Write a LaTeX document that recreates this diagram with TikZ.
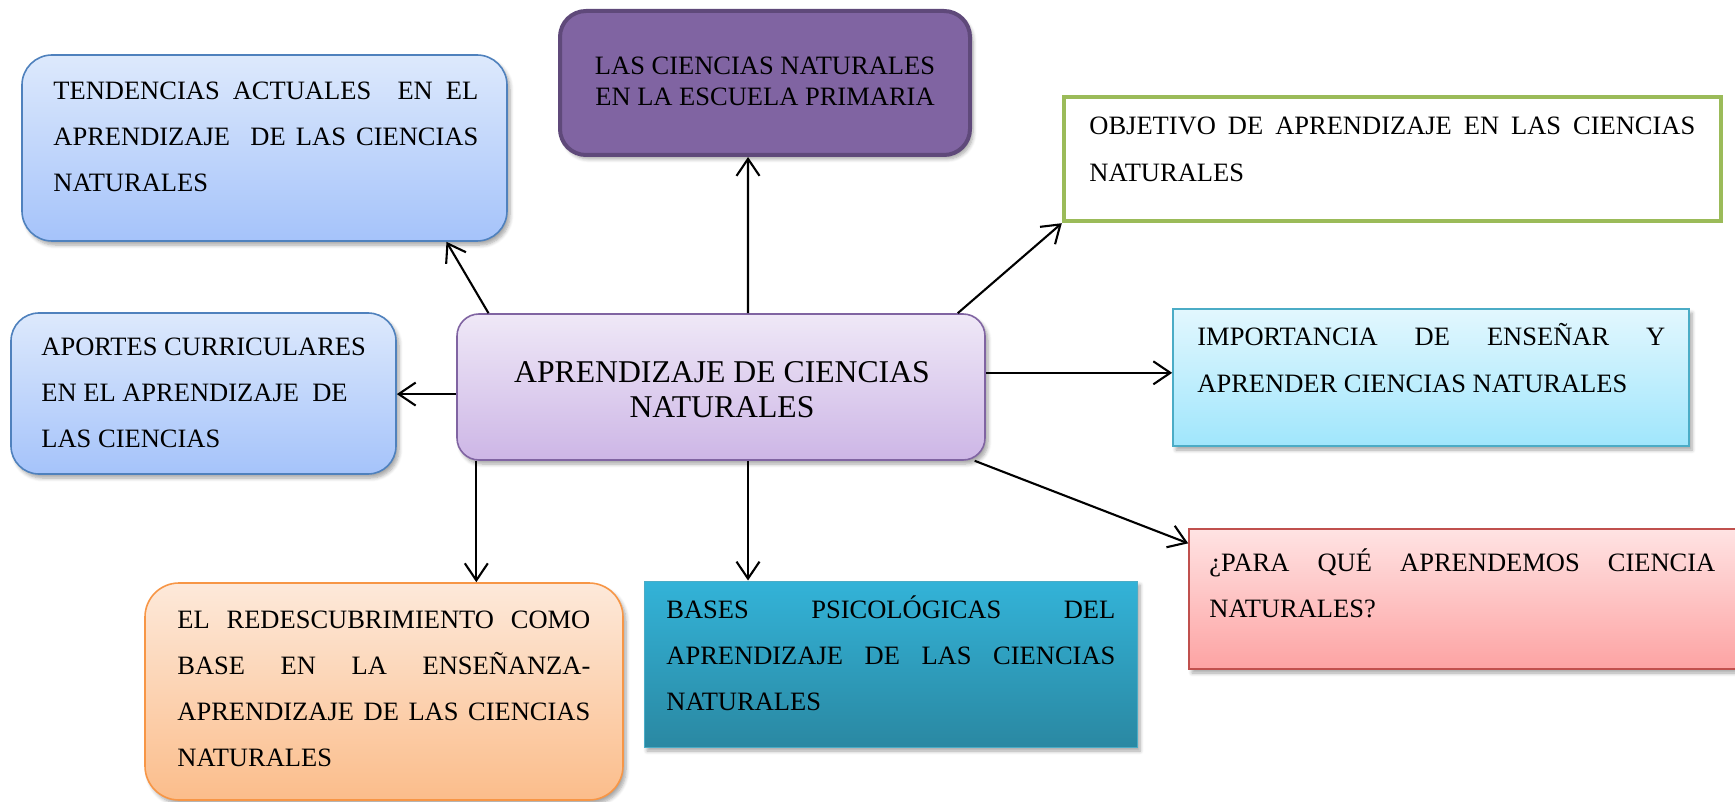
\documentclass[tikz,border=0pt]{standalone}
\usepackage{fontspec}
\setmainfont{Liberation Serif}
\usetikzlibrary{arrows.meta,calc,fit,shadows.blur}
\definecolor{tendtop}{HTML}{DDE9FC}
\definecolor{tendbot}{HTML}{A5C3FA}
\definecolor{tendbd}{HTML}{4F81BD}
\definecolor{purfill}{HTML}{8064A2}
\definecolor{purbd}{HTML}{5F497A}
\definecolor{grnbd}{HTML}{9BBB59}
\definecolor{centop}{HTML}{EFE8F7}
\definecolor{cenbot}{HTML}{CDB6E6}
\definecolor{cenbd}{HTML}{8064A2}
\definecolor{imptop}{HTML}{E2F7FE}
\definecolor{impbot}{HTML}{A0E6FC}
\definecolor{impbd}{HTML}{4BACC6}
\definecolor{redtop}{HTML}{FDE9DA}
\definecolor{redbot}{HTML}{FBBD8B}
\definecolor{redbd}{HTML}{F79646}
\definecolor{bastop}{HTML}{33B3D8}
\definecolor{basbot}{HTML}{2A88A2}
\definecolor{pqtop}{HTML}{FFE3E3}
\definecolor{pqbot}{HTML}{FDA3A3}
\definecolor{pqbd}{HTML}{C0504D}
\tikzset{
  boxbase/.style={inner sep=0pt, blur shadow={shadow xshift=1.5pt,shadow yshift=-2pt,shadow blur steps=6,shadow opacity=35}},
  txt/.style={anchor=north west, inner sep=0pt, align=left, font=\fontsize{13.25}{23}\selectfont},
  arr/.style={line width=1.05pt, -{Straight Barb[length=8.5pt,width=11.5pt,line width=1.05pt]}},
}
\begin{document}
\begin{tikzpicture}[x=0.5pt,y=-0.5pt]
\useasboundingbox (0,0) rectangle (1735,802);
% boxes
\node[boxbase, fit={(22,55) (507,241)}, rounded corners=15pt, draw=tendbd, line width=0.8pt, top color=tendtop, bottom color=tendbot] (tend) {};
\node[boxbase, fit={(560,11) (970,155)}, rounded corners=13pt, draw=purbd, line width=2pt, fill=purfill] (lcn) {};
\node[boxbase, fit={(1064,97) (1721,221)}, draw=grnbd, line width=2.2pt, fill=white, blur shadow={shadow opacity=0}] (obj) {};
\node[boxbase, fit={(11,313) (396,474)}, rounded corners=14pt, draw=tendbd, line width=0.8pt, top color=tendtop, bottom color=tendbot] (apo) {};
\node[boxbase, fit={(457,314) (985,460)}, rounded corners=11pt, draw=cenbd, line width=0.8pt, top color=centop, bottom color=cenbot] (cen) {};
\node[boxbase, fit={(1173,309) (1689,446)}, draw=impbd, line width=0.8pt, top color=imptop, bottom color=impbot] (imp) {};
\node[boxbase, fit={(145,583) (623,800)}, rounded corners=17pt, draw=redbd, line width=0.8pt, top color=redtop, bottom color=redbot] (red) {};
\node[boxbase, fit={(644,581) (1137,747)}, draw=impbd, line width=0.5pt, top color=bastop, bottom color=basbot] (bas) {};
\node[boxbase, fit={(1189,529) (1745,669)}, draw=pqbd, line width=0.8pt, top color=pqtop, bottom color=pqbot] (pq) {};
% texts
\node[txt] (tendT) at (53,82) {\makebox[212.5pt][s]{TENDENCIAS ACTUALES \ EN EL}\\\makebox[212.5pt][s]{APRENDIZAJE \ DE LAS CIENCIAS}\\NATURALES};
\node[anchor=north, inner sep=0pt, align=center, font=\fontsize{13.25}{15.5}\selectfont] (lcnT) at (765,57) {LAS CIENCIAS NATURALES\\EN LA ESCUELA PRIMARIA};
\node[txt, font=\fontsize{13.25}{23.5}\selectfont] (objT) at (1089,117) {\makebox[303pt][s]{OBJETIVO DE APRENDIZAJE EN LAS CIENCIAS}\\NATURALES};
\node[txt] (apoT) at (41,338) {APORTES CURRICULARES\\EN EL APRENDIZAJE \ DE\\LAS CIENCIAS};
\node[anchor=north, inner sep=0pt, align=center, font=\fontsize{15.85}{17.5}\selectfont] (cenT) at (722,361) {APRENDIZAJE DE CIENCIAS\\NATURALES};
\node[txt, font=\fontsize{13.25}{23.5}\selectfont] (impT) at (1197,323) {\makebox[234pt][s]{IMPORTANCIA DE ENSEÑAR Y}\\APRENDER CIENCIAS NATURALES};
\node[txt] (redT) at (177,611) {\makebox[206.5pt][s]{EL REDESCUBRIMIENTO COMO}\\\makebox[206.5pt][s]{BASE EN LA ENSEÑANZA-}\\\makebox[206.5pt][s]{APRENDIZAJE DE LAS CIENCIAS}\\NATURALES};
\node[txt] (basT) at (666,595) {\makebox[224.5pt][s]{BASES PSICOLÓGICAS DEL}\\\makebox[224.5pt][s]{APRENDIZAJE DE LAS CIENCIAS}\\NATURALES};
\node[txt] (pqT) at (1209,548) {\makebox[253pt][s]{¿PARA QUÉ APRENDEMOS CIENCIA}\\NATURALES?};
% connectors
\draw[arr] ($(cen.north west)!0.061!(cen.north east)$) -- ($(tend.south west)!0.874!(tend.south east)$);
\draw[arr] ($(cen.north west)!0.551!(cen.north east)$) -- ($(lcn.south west)!0.459!(lcn.south east)$);
\draw[arr] ($(cen.north west)!0.947!(cen.north east)$) -- (obj.south west);
\coordinate (cw) at ($(cen.north west)!0.548!(cen.south west)$);
\draw[arr] (cw) -- (cw -| apo.east);
\coordinate (ce) at ($(cen.north east)!0.404!(cen.south east)$);
\draw[arr] (ce) -- (ce -| imp.west);
\draw[arr] ($(cen.south west)!0.979!(cen.south east)$) -- ($(pq.north west)!0.107!(pq.south west)$);
\coordinate (cs1) at ($(cen.south west)!0.038!(cen.south east)$);
\draw[arr] (cs1) -- (cs1 |- red.north);
\coordinate (cs2) at ($(cen.south west)!0.551!(cen.south east)$);
\draw[arr] (cs2) -- (cs2 |- bas.north);
\end{tikzpicture}
\end{document}
